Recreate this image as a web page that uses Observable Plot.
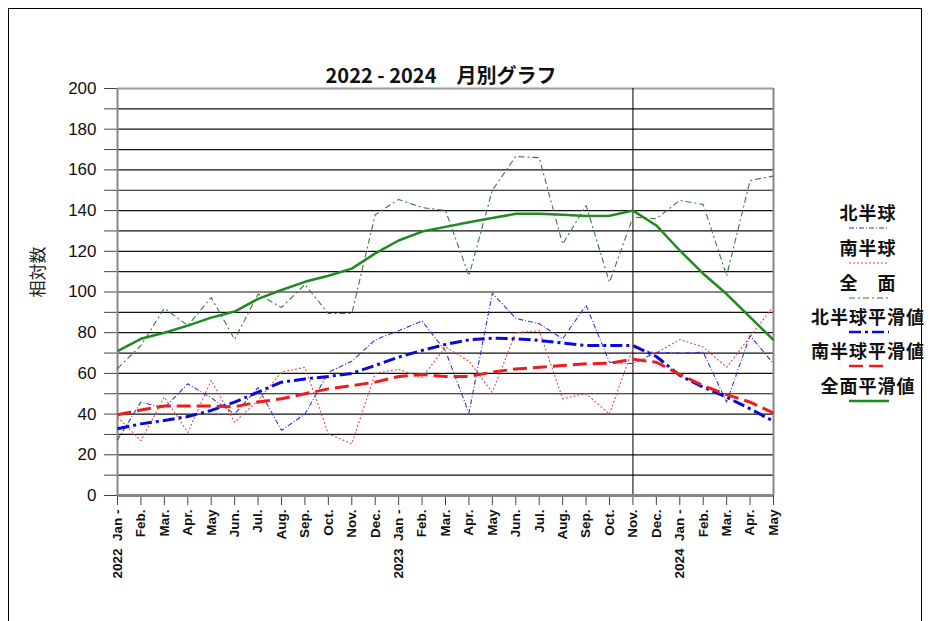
<!DOCTYPE html>
<html><head><meta charset="utf-8">
<script src="https://cdn.jsdelivr.net/npm/d3@7"></script>
<script src="https://cdn.jsdelivr.net/npm/@observablehq/plot@0.6"></script>
<style>
body{margin:0;background:#fff;}
#wrap{position:relative;width:930px;height:621px;overflow:hidden;background:#fff;}
#border{position:absolute;left:8px;top:8px;width:914px;height:620px;border:1px solid #000;box-sizing:border-box;}
#chart{position:absolute;left:0;top:0;}
#title{position:absolute;top:60px;left:0;width:882px;text-align:center;font:bold 20px "Noto Sans CJK JP";white-space:pre;color:#111;}
#ylab{position:absolute;left:36px;top:272px;transform:translate(-50%,-50%) rotate(-90deg);font:17px "Noto Sans CJK JP";color:#222;white-space:nowrap;}
.lt{position:absolute;left:768px;width:200px;text-align:center;font:bold 18px "Noto Sans CJK JP";letter-spacing:1px;color:#111;transform:translateY(-50%);white-space:pre;}
.ls{position:absolute;left:849px;}
</style></head>
<body><div id="wrap"><div id="border"></div><div id="chart"></div>
<div id="title">2022 - 2024　月別グラフ</div>
<div id="ylab">相対数</div>
</div>
<script>
const months = ["2022\u00a0\u00a0Jan -","Feb.","Mar.","Apr.","May","Jun.","Jul.","Aug.","Sep.","Oct.","Nov.","Dec.",
"2023\u00a0\u00a0Jan -","Feb.","Mar.","Apr.","May","Jun.","Jul.","Aug.","Sep.","Oct.","Nov.","Dec.",
"2024\u00a0\u00a0Jan -","Feb.","Mar.","Apr.","May"];

const north = [27.4,45.9,43,54.9,48,40,53,32,40,60.5,66,76.5,81,85.7,71,40.5,99.4,87,84.4,77,93.4,65.5,64.8,70.4,70,70.4,45.9,78.6,64.7];
const south = [38.5,27,48.3,31,56.5,36,46.7,60.6,63,30.3,25.4,60,62,58,73,66,50.8,80,81,47.6,50,40,72.5,70,76.6,73,63,78,93];
const total = [62.4,73.7,92,83.5,97.3,76.7,99,92.4,103.7,89.4,89.4,138,145.5,141.5,140,108,150,166.6,166,123.5,142.5,104.8,136.8,136,145,143,108,154.8,157];
const northSmooth = [32.8,35.2,36.9,38.8,41.8,45.9,50.8,55.7,57.3,58.5,60,63.9,68,71.3,74.2,76.5,77.3,77,76.2,74.9,73.7,73.7,73.7,68.3,59,53.2,48.3,42.6,36.5];
const southSmooth = [39.7,42,44,44,44,43.6,45.9,47.5,50,52.4,54,55.7,58.5,59.5,58.5,58.5,60.6,62.2,63,63.9,64.7,65,67,65.5,59.5,54,49.6,45.9,40.5];
const totalSmooth = [70.9,77,80,83.5,87.4,90.4,96.6,101,105,108,111.5,119,125.3,129.7,132,134.3,136.4,138.4,138.4,138,137.3,137.5,140,132.7,120.4,109,99,87.6,76.5];

const seriesNames = ["北半球","南半球","全\u3000面","北半球平滑値","南半球平滑値","全面平滑値"];
const seriesColors = ["#3535c8","#e84848","#3a7a3a","#0a0ad8","#f01c1c","#1f8a1f"];
const seriesWidths = [1.1,1.1,1.1,3,3,2.5];
const seriesDash = ["5,2,1,2","2,2","6,3,2,3","12,4,3,4","14,6","none"];
const seriesData = [north,south,total,northSmooth,southSmooth,totalSmooth];

const idx = d3.range(months.length);
const lineMarks = [0,1,2,3,4,5].map(k => Plot.line(idx, {
  x: i => i, y: i => seriesData[k][i],
  stroke: seriesColors[k], strokeWidth: seriesWidths[k],
  strokeDasharray: seriesDash[k], strokeLinecap: "butt", strokeLinejoin: "round"
}));

const plot = Plot.plot({
  width: 930, height: 621,
  marginLeft: 117, marginRight: 157, marginTop: 88, marginBottom: 126,
  x: {domain: [0, 28], axis: null},
  y: {domain: [0, 200], axis: null},
  style: {background: "transparent", overflow: "visible"},
  marks: [
    Plot.gridY(d3.range(10, 201, 10), {stroke: "#111", strokeOpacity: 1, strokeWidth: 1.2}),
    Plot.axisY(d3.range(0, 201, 10), {tickSize: 13, tickFormat: () => "", stroke: "#444", label: null}),
    Plot.axisY(d3.range(0, 201, 20), {tickSize: 0, tickPadding: 21, fontSize: 17, fontFamily: "Liberation Sans", fill: "#111", label: null}),
    Plot.axisX(idx, {tickSize: 10, tickPadding: 4, tickRotate: -90, tickFormat: i => months[i], fontSize: 13.5, fontWeight: "bold", fontFamily: "Liberation Sans", stroke: "#444", fill: "#111", label: null}),
    Plot.ruleY([200], {stroke: "#999", strokeWidth: 2}),
    Plot.ruleX([0, 28], {stroke: "#888", strokeWidth: 2}),
    Plot.ruleX([22], {stroke: "#000", strokeWidth: 1}),
    ...lineMarks,
    Plot.ruleY([0], {stroke: "#888", strokeWidth: 3})
  ]
});
document.getElementById("chart").appendChild(plot);

// legend
const wrap = document.getElementById("wrap");
const rowY = [212, 246.7, 281.5, 315.5, 350, 385];
seriesNames.forEach((n, k) => {
  const t = document.createElement("div");
  t.className = "lt"; t.textContent = n; t.style.top = rowY[k] + "px";
  wrap.appendChild(t);
  const s = document.createElementNS("http://www.w3.org/2000/svg", "svg");
  s.setAttribute("class", "ls"); s.setAttribute("width", 40); s.setAttribute("height", 6);
  s.style.top = (rowY[k] + 16 - 3) + "px";
  const l = document.createElementNS("http://www.w3.org/2000/svg", "line");
  l.setAttribute("x1", 0); l.setAttribute("x2", 40); l.setAttribute("y1", 3); l.setAttribute("y2", 3);
  l.setAttribute("stroke", seriesColors[k]); l.setAttribute("stroke-width", Math.min(seriesWidths[k], 2.5));
  if (seriesDash[k] !== "none") l.setAttribute("stroke-dasharray", seriesDash[k]);
  s.appendChild(l); wrap.appendChild(s);
});
</script></body></html>
